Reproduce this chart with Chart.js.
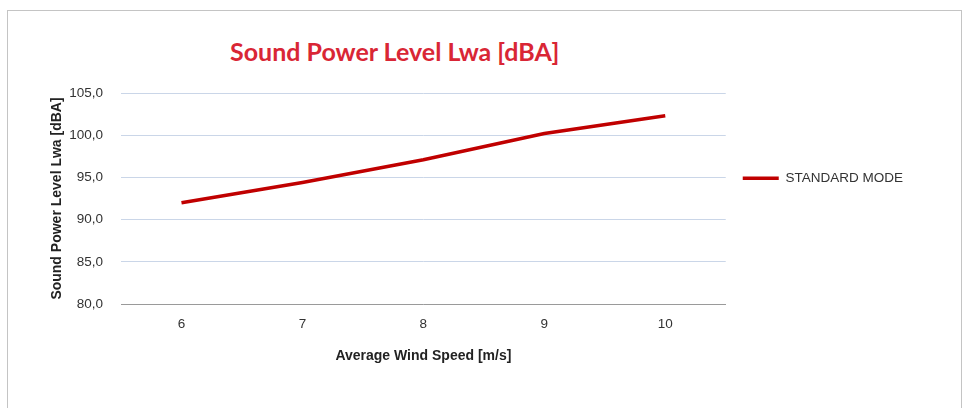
<!DOCTYPE html>
<html>
<head>
<meta charset="utf-8">
<script src="https://cdn.jsdelivr.net/npm/chart.js@4"></script>
<style>
    body { margin: 0; background: #fff; }
    #frame {
        position: absolute; left: 7px; top: 10px; width: 955px; height: 420px;
        border: 1px solid #c4c4c4; box-sizing: border-box;
    }
    #title {
        position: absolute; left: 230px; top: 36px;
        font-family: Lato, sans-serif; font-weight: 700; font-size: 25px;
        color: #d92635; white-space: nowrap;
    }
    #wrap { position: absolute; left: 0; top: 0; width: 968px; height: 408px; }
</style>
</head>
<body>
<div id="frame"></div>
<div id="title">Sound Power Level Lwa [dBA]</div>
<div id="wrap"><canvas id="chart"></canvas></div>
<script>
// wind speed [m/s]
const windSpeeds = ['6', '7', '8', '9', '10'];
// sound power level [dBA]
const standardMode = [92.0, 94.4, 97.1, 100.2, 102.3];
const seriesName = 'STANDARD MODE';

const tickFont = { family: 'Liberation Sans, Arial, sans-serif', size: 13.5 };
const titleFont = { family: 'Liberation Sans, Arial, sans-serif', size: 14, weight: 'bold' };

const chart = new Chart(document.getElementById('chart'), {
    type: 'line',
    data: {
        labels: windSpeeds,
        datasets: [{
            label: seriesName,
            data: standardMode,
            borderColor: '#c00000',
            backgroundColor: '#c00000',
            borderWidth: 3.5,
            pointRadius: 0,
            tension: 0
        }]
    },
    options: {
        responsive: true,
        maintainAspectRatio: false,
        animation: false,
        layout: { padding: { top: 93, left: 45, right: 55, bottom: 39 } },
        plugins: {
            tooltip: { enabled: false },
            legend: {
                position: 'right',
                align: 'start',
                fullSize: false,
                // empty title used only to push the entry down
                title: { display: true, text: '', padding: { top: 47, bottom: 0 } },
                labels: {
                    usePointStyle: true,
                    pointStyle: 'line',
                    pointStyleWidth: 36,
                    padding: 17,
                    color: '#333',
                    font: tickFont
                }
            }
        },
        scales: {
            x: {
                offset: true,
                grid: { display: false, drawTicks: false },
                border: { display: true, color: '#9a9a9a', width: 1 },
                ticks: { color: '#333', font: tickFont, padding: 12 },
                title: {
                    display: true, text: 'Average Wind Speed [m/s]',
                    color: '#222', font: titleFont, padding: { top: 4, bottom: 4 }
                }
            },
            y: {
                min: 80,
                max: 105,
                grid: { color: '#cad6e8', lineWidth: 1, drawTicks: false },
                border: { display: false },
                ticks: {
                    stepSize: 5,
                    color: '#333',
                    font: tickFont,
                    padding: 18,
                    callback: v => v.toFixed(1).replace('.', ',')
                },
                title: {
                    display: true, text: 'Sound Power Level Lwa [dBA]',
                    color: '#222', font: titleFont, padding: { top: 4, bottom: 4 }
                },
                afterFit: scale => { scale.width = 76; }
            }
        }
    }
});
</script>
</body>
</html>
